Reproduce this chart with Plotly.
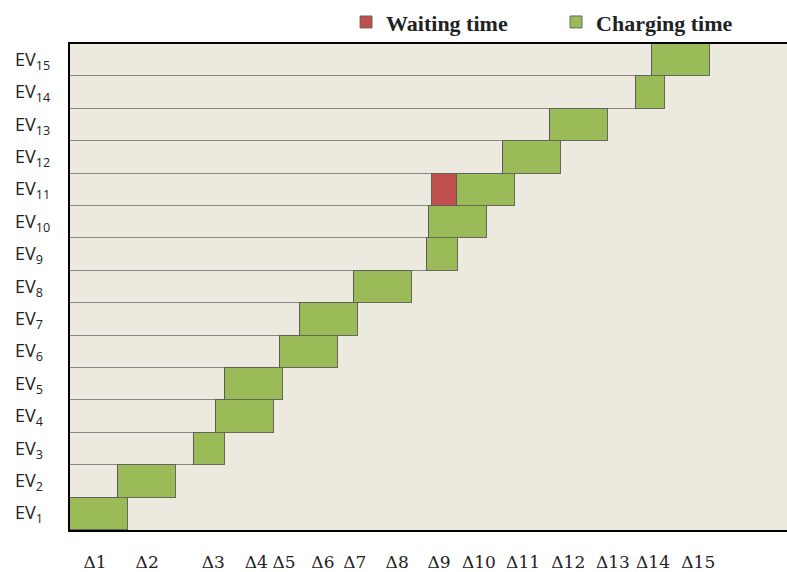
import plotly.graph_objects as go

ev_labels = [f"EV<sub>{i}</sub>" for i in range(1, 16)]
start_times = [0.0, 0.83, 2.14, 2.52, 2.67, 3.62, 3.97, 4.90, 6.16, 6.19, 6.24, 7.47, 8.28, 9.76, 10.03]
waiting_times = [0, 0, 0, 0, 0, 0, 0, 0, 0, 0, 0.43, 0, 0, 0, 0]
charging_times = [1.0, 1.0, 0.53, 1.0, 1.0, 1.0, 1.0, 1.0, 0.52, 1.0, 1.0, 1.0, 1.0, 0.5, 1.0]
tick_vals = [0.43, 1.33, 2.47, 3.21, 3.69, 4.36, 4.91, 5.64, 6.36, 7.05, 7.81, 8.59, 9.36, 10.05, 10.83]
tick_text = [f"Δ{i}" for i in range(1, 16)]

bg = "#ECE9DF"
edge = "rgba(90,90,90,0.85)"

fig = go.Figure()
fig.add_trace(go.Bar(y=ev_labels, x=start_times, orientation="h", showlegend=False,
                     marker=dict(color=bg, line=dict(color="rgba(110,110,110,0.8)", width=1)),
                     hoverinfo="skip"))
fig.add_trace(go.Bar(y=ev_labels, x=waiting_times, orientation="h", name="<b>Waiting time</b>",
                     marker=dict(color="#C0504D", line=dict(color=edge, width=1))))
fig.add_trace(go.Bar(y=ev_labels, x=charging_times, orientation="h", name="<b>Charging time</b>",
                     marker=dict(color="#9BBB59", line=dict(color=edge, width=1))))

for lab in ev_labels:
    fig.add_annotation(x=-0.0795, xref="paper", xanchor="left", y=lab, yref="y", yanchor="middle",
                       text=lab, showarrow=False,
                       font=dict(family="Open Sans", size=18, color="#222"))

fig.update_layout(
    width=787, height=572,
    margin=dict(l=70, r=0, t=44, b=42, autoexpand=False),
    paper_bgcolor="white", plot_bgcolor=bg,
    barmode="stack", bargap=0,
    legend=dict(orientation="h", traceorder="normal", x=0.385, xanchor="left", y=1.045, yanchor="middle",
                font=dict(family="Liberation Serif", size=22, color="#222"),
                itemwidth=30, entrywidth=165, bgcolor="rgba(0,0,0,0)"),
    xaxis=dict(range=[0, 12.36], tickvals=tick_vals, ticktext=tick_text, showgrid=False,
               zeroline=False, showline=True, linecolor="black", linewidth=2, mirror=True,
               ticks="", ticklabelstandoff=16, automargin=False,
               tickfont=dict(family="DejaVu Serif", size=17, color="#222")),
    yaxis=dict(showgrid=False, zeroline=False, showline=True, linecolor="black", linewidth=2,
               ticks="", showticklabels=False, automargin=False),
)

fig.write_html("out.html", config={"displayModeBar": False},
               post_script="document.body.style.margin='0px';")
